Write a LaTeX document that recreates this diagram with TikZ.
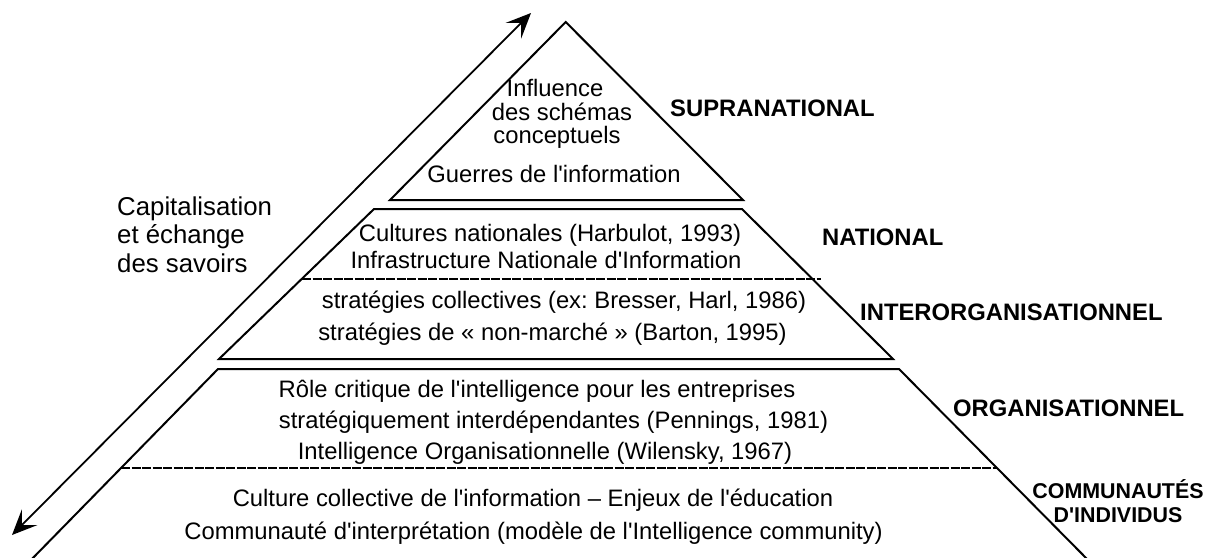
\documentclass[tikz,border=0pt]{standalone}
\usepackage{fontspec}
\setmainfont{Liberation Sans}[Ligatures=TeXOff]
\usetikzlibrary{arrows.meta}
\frenchspacing
\begin{document}
\begin{tikzpicture}[x=1pt,y=-1pt,
  edge/.style={line width=2pt, line join=miter},
  sepline/.style={line width=2.2pt, dash pattern=on 9pt off 1.5pt},
  body/.style={font=\frenchspacing\fontsize{23.8}{27}\selectfont, anchor=base, inner sep=0pt},
  lvl/.style={font=\fontsize{23.8}{27}\selectfont\bfseries, anchor=base west, inner sep=0pt},
  lvlsmall/.style={font=\fontsize{21.4}{24}\selectfont\bfseries, anchor=base, inner sep=0pt},
  side/.style={font=\fontsize{25.8}{28.5}\selectfont, anchor=base west, inner sep=0pt},
  headtip/.tip={Stealth[length=25pt,width=22pt,inset=11pt]},
]
\useasboundingbox (0,0) rectangle (1213,557);
\clip (0,0) rectangle (1213,557);

% pyramid corner points
\coordinate (apex) at (565.7,22);
\coordinate (t1) at (390,200);
\coordinate (t2) at (743,200);
\coordinate (n1) at (374,209);
\coordinate (n2) at (742,209);
\coordinate (n3) at (893,359);
\coordinate (n4) at (219,359);
\coordinate (s1) at (302,279);
\coordinate (s2) at (821,279);
\coordinate (o1) at (218,369);
\coordinate (o2) at (899,369);
\coordinate (o3) at (1091,563);
\coordinate (o4) at (28,563);
\coordinate (d1) at (121,468);
\coordinate (d2) at (997,468);

\draw[edge] (apex) -- (t2) -- (t1) -- cycle;
\draw[edge] (n1) -- (n2) -- (n3) -- (n4) -- cycle;
\draw[sepline] (s1) -- (s2);
\draw[edge] (o4) -- (o1) -- (o2) -- (o3);
\draw[sepline] (d1) -- (d2);

% double arrow
\coordinate (aL) at (12,535);
\coordinate (aU) at (531,13);
\draw[line width=1.8pt, headtip-headtip] (aL) -- (aU);

% side label
\node[side] (cap1) at (117,215) {Capitalisation};
\node[side] (cap2) at (117,243.5) {et échange};
\node[side] (cap3) at (117,272) {des savoirs};

% top triangle
\node[body] (a1) at (555,96.5) {Influence};
\node[body] (a2) at (562,120.5) {des schémas};
\node[body] (a3) at (557,143) {conceptuels};
\node[body] (a4) at (554,182.5) {Guerres de l'information};

% national / interorganisational
\node[body] (b1) at (550,241.5) {Cultures nationales (Harbulot, 1993)};
\node[body] (b2) at (546,268) {Infrastructure Nationale d'Information};
\node[body] (b3) at (564,308) {stratégies collectives (ex: Bresser, Harl, 1986)};
\node[body] (b4) at (552.5,340.5) {stratégies de « non-marché » (Barton, 1995)};

% organisational / communities
\node[body] (c1) at (537,397) {Rôle critique de l'intelligence pour les entreprises};
\node[body] (c2) at (553.5,428) {stratégiquement interdépendantes (Pennings, 1981)};
\node[body] (c3) at (545,459) {Intelligence Organisationnelle (Wilensky, 1967)};
\node[body] (c4) at (533,506) {Culture collective de l'information – Enjeux de l'éducation};
\node[body] (c5) at (533.5,539) {Communauté d'interprétation (modèle de l'Intelligence community)};

% level labels
\node[lvl] (l1) at (670,116.5) {SUPRANATIONAL};
\node[lvl] (l2) at (822,245) {NATIONAL};
\node[lvl] (l3) at (860,320) {INTERORGANISATIONNEL};
\node[lvl] (l4) at (953,416) {ORGANISATIONNEL};
\node[lvlsmall] (l5) at (1118,498) {COMMUNAUTÉS};
\node[lvlsmall] (l6) at (1118,522) {D'INDIVIDUS};
\end{tikzpicture}
\end{document}
